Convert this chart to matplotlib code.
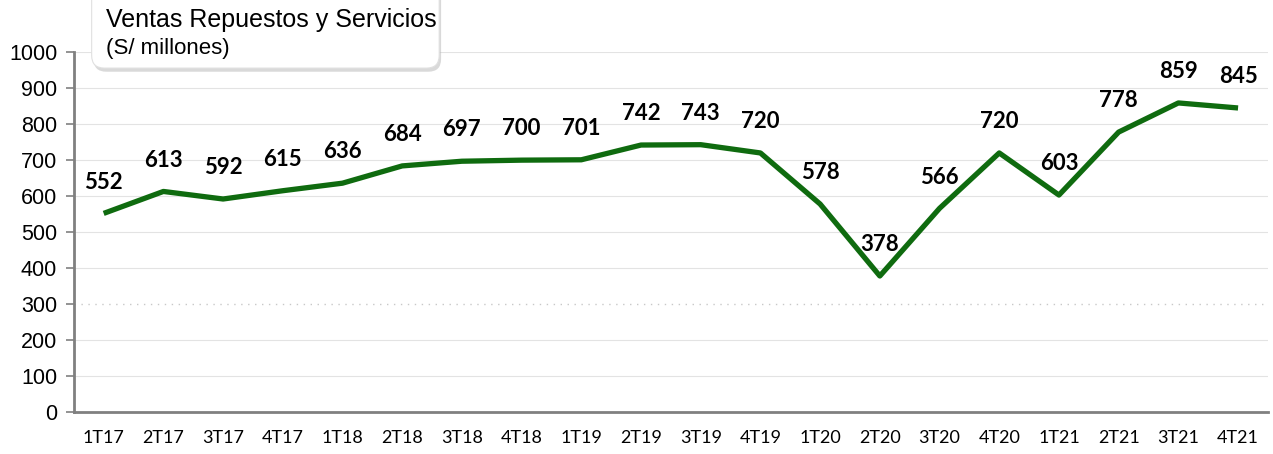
import matplotlib.pyplot as plt
from matplotlib.patches import FancyBboxPatch

trimestres = ["1T17", "2T17", "3T17", "4T17", "1T18", "2T18", "3T18", "4T18",
              "1T19", "2T19", "3T19", "4T19", "1T20", "2T20", "3T20", "4T20",
              "1T21", "2T21", "3T21", "4T21"]
ventas = [552, 613, 592, 615, 636, 684, 697, 700, 701, 742, 743, 720,
          578, 378, 566, 720, 603, 778, 859, 845]
y_ticks = [0, 100, 200, 300, 400, 500, 600, 700, 800, 900, 1000]

fig = plt.figure(figsize=(12.73, 4.54), dpi=100)
ax = fig.add_axes([0.058, 0.0925, 0.938, 0.7925])

x = list(range(len(trimestres)))
ax.plot(x, ventas, color="#0f6b0f", linewidth=3.8, solid_capstyle="butt", zorder=3)

for xi, v in zip(x, ventas):
    ax.annotate(str(v), (xi, v), xytext=(0, 15), textcoords="offset points",
                ha="center", va="bottom", fontsize=16, fontweight="bold",
                family="Lato", color="black")

ax.set_xlim(-0.5, len(trimestres) - 0.5)
ax.set_ylim(0, 1000)
ax.set_yticks(y_ticks)
ax.set_yticklabels([str(t) for t in y_ticks], family="Liberation Sans", fontsize=15.5)
ax.set_xticks(x)
ax.set_xticklabels(trimestres, family="Lato", fontsize=13)
ax.tick_params(axis="x", length=0, pad=13)
ax.tick_params(axis="y", length=6, width=1.2, color="#808080", pad=6)

for t in y_ticks[1:]:
    if t == 300:
        ax.axhline(t, color="#c8c8c8", linewidth=1, linestyle=(0, (1, 4)), zorder=1)
    else:
        ax.axhline(t, color="#e3e3e3", linewidth=0.8, zorder=1)

for s in ["top", "right"]:
    ax.spines[s].set_visible(False)
for s in ["left", "bottom"]:
    ax.spines[s].set_color("#808080")
    ax.spines[s].set_linewidth(2)

# cuadro del titulo
sombra = FancyBboxPatch((0.0735, 0.842), 0.273, 0.19, boxstyle="round,pad=0,rounding_size=0.01",
                        transform=fig.transFigure, facecolor="#b5b5b5", edgecolor="none",
                        alpha=0.5, zorder=4, mutation_aspect=2.8)
caja = FancyBboxPatch((0.072, 0.850), 0.273, 0.19, boxstyle="round,pad=0,rounding_size=0.01",
                      transform=fig.transFigure, facecolor="white", edgecolor="#e0e0e0",
                      linewidth=0.8, zorder=5, mutation_aspect=2.8)
fig.patches.extend([sombra, caja])
fig.text(0.083, 0.957, "Ventas Repuestos y Servicios", family="Liberation Sans",
         fontsize=18, va="center", zorder=6)
fig.text(0.083, 0.893, "(S/ millones)", family="Liberation Sans",
         fontsize=16, va="center", zorder=6)

fig.savefig("out.png", dpi=100)
